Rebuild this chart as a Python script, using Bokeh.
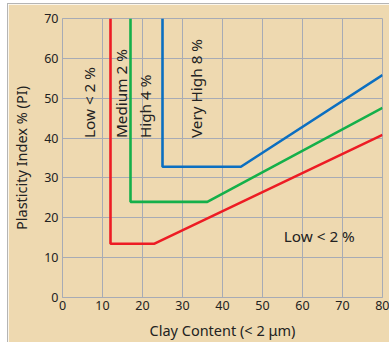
from bokeh.plotting import figure
from bokeh.embed import file_html
from bokeh.resources import INLINE
from bokeh.core.properties import value
from bokeh.models import FixedTicker
import math

# data
red_x = [12, 12, 23, 80]
red_y = [70, 13.5, 13.5, 40.8]
green_x = [17, 17, 36.2, 80]
green_y = [70, 24, 24, 47.6]
blue_x = [25, 25, 44.6, 80]
blue_y = [70, 32.8, 32.8, 55.8]

vlabels = ["Low < 2 %", "Medium 2 %", "High 4 %", "Very High 8 %"]
vlabel_x = [6.5, 14.6, 20.6, 33.4]
vlabel_y = [40, 40, 40, 40]
hlabel = ["Low < 2 %"]
hlabel_x = [55.3]
hlabel_y = [15.5]

x_ticks = [0, 10, 20, 30, 40, 50, 60, 70, 80]
y_ticks = [0, 10, 20, 30, 40, 50, 60, 70]

BG = "#EED9B0"
GRID = "#A7ABB5"
FONT = "Noto Sans"

p = figure(width=382, height=339, output_backend="svg", toolbar_location=None,
           x_range=(0, 80), y_range=(0, 70),
           min_border_left=54, min_border_right=8, min_border_top=14, min_border_bottom=46)
p.margin = (3, 0, 0, 7)
p.styles = {"border-left": "1px solid #B5B5B5", "border-top": "1px solid #B5B5B5"}
p.background_fill_color = BG
p.border_fill_color = BG
p.outline_line_color = GRID
p.outline_line_width = 1

p.xaxis.ticker = FixedTicker(ticks=x_ticks)
p.yaxis.ticker = FixedTicker(ticks=y_ticks)
for ax in (p.xaxis[0], p.yaxis[0]):
    ax.axis_line_color = GRID
    ax.major_tick_line_color = None
    ax.minor_tick_line_color = None
    ax.major_tick_out = 0
    ax.major_tick_in = 0
    ax.minor_tick_out = 0
    ax.minor_tick_in = 0
    ax.major_label_text_font = FONT
    ax.major_label_text_font_size = "12.5px"
    ax.major_label_text_color = "#222222"
    ax.axis_label_text_font = FONT
    ax.axis_label_text_font_size = "14.5px"
    ax.axis_label_text_font_style = "normal"
    ax.axis_label_text_color = "#222222"
p.xaxis.major_label_standoff = 3
p.yaxis.major_label_standoff = 4
p.xaxis.axis_label = "Clay Content (< 2 μm)"
p.yaxis.axis_label = "Plasticity Index % (PI)"
p.xaxis.axis_label_standoff = 7
p.yaxis.axis_label_standoff = 10

p.xgrid.grid_line_color = GRID
p.ygrid.grid_line_color = GRID
p.xgrid.grid_line_width = 1
p.ygrid.grid_line_width = 1

p.line(red_x, red_y, line_color="#ED1C24", line_width=2.6)
p.line(green_x, green_y, line_color="#14B04A", line_width=2.6)
p.line(blue_x, blue_y, line_color="#0B6FC1", line_width=2.6)

p.text(x=vlabel_x, y=vlabel_y, text=vlabels, angle=math.pi / 2,
       text_align="left", text_baseline="middle",
       text_font=value(FONT), text_font_size="15.3px", text_color="#222222")
p.text(x=hlabel_x, y=hlabel_y, text=hlabel,
       text_align="left", text_baseline="middle",
       text_font=value(FONT), text_font_size="15.3px", text_color="#222222")

open("out.html", "w").write(file_html(p, INLINE))
